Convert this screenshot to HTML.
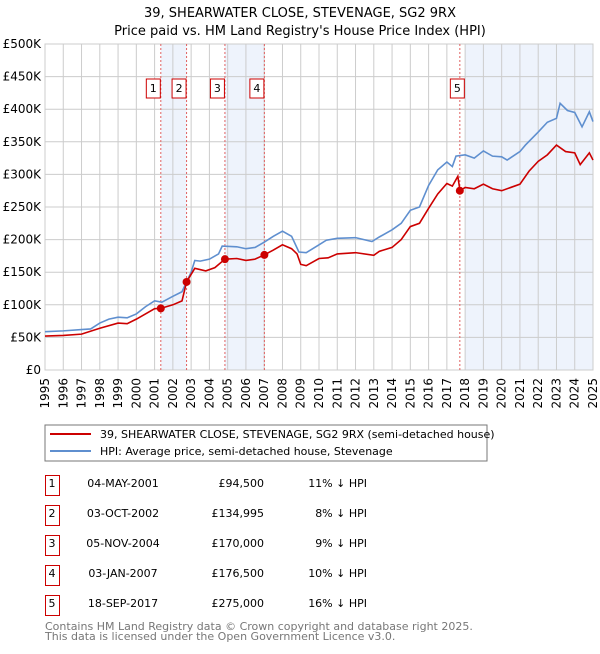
<!DOCTYPE html>
<html><head><meta charset="utf-8"><style>
body{margin:0;background:#fff;font-family:"DejaVu Sans","Liberation Sans",sans-serif;}
svg text{font-family:"DejaVu Sans","Liberation Sans",sans-serif;}
</style></head><body>
<svg id="c" width="600" height="650" xmlns="http://www.w3.org/2000/svg">
<text x="300" y="17" text-anchor="middle" font-size="13">39, SHEARWATER CLOSE, STEVENAGE, SG2 9RX</text>
<text x="300" y="35" text-anchor="middle" font-size="13">Price paid vs. HM Land Registry's House Price Index (HPI)</text>
<g id="plot"></g>
<rect x="45" y="425" width="442" height="36" fill="#fff" stroke="#777"/>
<line x1="50" y1="434" x2="91" y2="434" stroke="#cc0000" stroke-width="2"/>
<text x="100" y="438" font-size="11">39, SHEARWATER CLOSE, STEVENAGE, SG2 9RX (semi-detached house)</text>
<line x1="50" y1="451" x2="91" y2="451" stroke="#5f8fcf" stroke-width="2"/>
<text x="100" y="455" font-size="11">HPI: Average price, semi-detached house, Stevenage</text>
<g id="table"></g>
<text x="45" y="630" font-size="11" fill="#777">Contains HM Land Registry data © Crown copyright and database right 2025.</text>
<text x="45" y="640" font-size="11" fill="#777">This data is licensed under the Open Government Licence v3.0.</text>
</svg>
<script>
const hpiYears=[1995,1996,1997,1997.5,1998,1998.5,1999,1999.5,2000,2000.5,2001,2001.4,2002,2002.5,2003,2003.2,2003.5,2004,2004.5,2004.7,2005.5,2006,2006.5,2007,2007.5,2008,2008.5,2008.9,2009.3,2010,2010.4,2011,2012,2012.9,2013.3,2014,2014.5,2015,2015.5,2016,2016.5,2017,2017.3,2017.5,2018,2018.5,2019,2019.5,2020,2020.3,2021,2021.3,2022,2022.5,2023,2023.2,2023.6,2024,2024.4,2024.8,2025];
const hpiValues=[58.7,60,62,63,72,78,81,80,86,97,106,104,113,120,150,168,167,170,178,190,189,186,188,196,205,213,205,181,180,192,199,202,203,197,204,215,225,245,250,283,307,319,312,328,330,325,336,328,327,322,335,345,365,380,386,409,398,395,373,396,381];
const priceYears=[1995,1996,1997,1998,1999,1999.5,2000,2000.5,2001,2001.34,2002,2002.5,2002.75,2003.2,2003.8,2004.3,2004.85,2005.5,2006,2006.5,2007,2007.5,2008,2008.5,2008.8,2009,2009.3,2010,2010.5,2011,2012,2013,2013.3,2014,2014.5,2015,2015.5,2016,2016.5,2017,2017.3,2017.6,2017.72,2018,2018.5,2019,2019.5,2020,2020.5,2021,2021.5,2022,2022.5,2023,2023.5,2024,2024.3,2024.8,2025];
const priceValues=[52,53,55,64,72,71,78,86,94,94.5,100,106,135,156,152,157,170,171,168,170,176.5,184,192,186,178,162,160,171,172,178,180,176,182,188,200,220,225,248,270,286,282,297,275,280,278,285,278,275,280,285,305,320,330,345,335,333,315,333,322];
const saleLabels=["1","2","3","4","5"];
const saleYears=[2001.34,2002.75,2004.85,2007.01,2017.71];
const saleValues=[94.5,134.995,170,176.5,275];
const saleDates=["04-MAY-2001","03-OCT-2002","05-NOV-2004","03-JAN-2007","18-SEP-2017"];
const salePrices=["£94,500","£134,995","£170,000","£176,500","£275,000"];
const saleDiffs=["11% ↓ HPI","8% ↓ HPI","9% ↓ HPI","10% ↓ HPI","16% ↓ HPI"];
const yTicks=[0,50,100,150,200,250,300,350,400,450,500];
const yTickLabels=["£0","£50K","£100K","£150K","£200K","£250K","£300K","£350K","£400K","£450K","£500K"];
const xTicks=[1995,1996,1997,1998,1999,2000,2001,2002,2003,2004,2005,2006,2007,2008,2009,2010,2011,2012,2013,2014,2015,2016,2017,2018,2019,2020,2021,2022,2023,2024,2025];

const L=45,R=593,T=44,B=370;
const xS=y=>L+(y-1995)/30*(R-L);
const yS=v=>B-v/500*(B-T);
const NS="http://www.w3.org/2000/svg";
function mk(tag,attrs,parent){const e=document.createElementNS(NS,tag);for(const k in attrs)e.setAttribute(k,attrs[k]);parent.appendChild(e);return e;}
const p=document.getElementById('plot');
// shaded spans
const spans=[[0,1],[2,3]];
spans.forEach((s,i)=>{const r=mk('rect',{x:xS(saleYears[s[0]]),y:T,width:xS(saleYears[s[1]])-xS(saleYears[s[0]]),height:B-T,fill:'#eef3fc'},p);

});
const r5=mk('rect',{x:xS(saleYears[4])+5,y:T,width:R-xS(saleYears[4])-5,height:B-T,fill:'#eef3fc'},p);


// grid
xTicks.forEach(t=>{const l=mk('line',{x1:xS(t),x2:xS(t),y1:T,y2:B,stroke:'#cccccc'},p);


const tx=mk('text',{x:0,y:0,'font-size':12,'text-anchor':'end',transform:`translate(${xS(t)+4},${B+8}) rotate(-90)`},p);tx.textContent=t;

});
yTicks.forEach((t,i)=>{const l=mk('line',{x1:L,x2:R,y1:yS(t),y2:yS(t),stroke:'#cccccc'},p);


const tx=mk('text',{x:L-4,y:yS(t)+4,'font-size':12,'text-anchor':'end'},p);tx.textContent=yTickLabels[i];

});
const fr=mk('rect',{x:L,y:T,width:R-L,height:B-T,fill:'none',stroke:'#cccccc'},p);


// sale lines
saleYears.forEach(y=>{const l=mk('line',{x1:xS(y),x2:xS(y),y1:T,y2:B,stroke:'#e06060','stroke-dasharray':'2,2'},p);

});
const hp=mk('polyline',{points:hpiYears.map((y,i)=>xS(y)+','+yS(hpiValues[i])).join(' '),fill:'none',stroke:'#5f8fcf','stroke-width':1.6},p);


const pp=mk('polyline',{points:priceYears.map((y,i)=>xS(y)+','+yS(priceValues[i])).join(' '),fill:'none',stroke:'#cc0000','stroke-width':1.6},p);


saleYears.forEach((y,i)=>{const c=mk('circle',{cx:xS(y),cy:yS(saleValues[i]),r:4,fill:'#cc0000'},p);


const bx=xS(y)-(i==4?3:8);
const b=mk('rect',{x:bx-6.5,y:79,width:14,height:19,fill:'#fff',stroke:'#cc0000'},p);


const t=mk('text',{x:bx+0.5,y:92,'font-size':11,'text-anchor':'middle'},p);t.textContent=saleLabels[i];

});
// table
const tb=document.getElementById('table');
saleLabels.forEach((s,i)=>{const y=475+i*30;
const b=mk('rect',{x:45.5,y:y+0.5,width:14,height:20,fill:'#fff',stroke:'#cc0000'},tb);


const cells=[[s,52,'middle'],[saleDates[i],123,'middle'],[salePrices[i],264,'end'],[saleDiffs[i],367,'end']];
const names=['table-row-number','table-row-date','table-row-price','table-row-hpi-diff'];
cells.forEach((c,j)=>{const t=mk('text',{x:c[1],y:y+12,'font-size':11,'text-anchor':c[2]},tb);t.textContent=c[0];

});});
</script>
</body></html>
